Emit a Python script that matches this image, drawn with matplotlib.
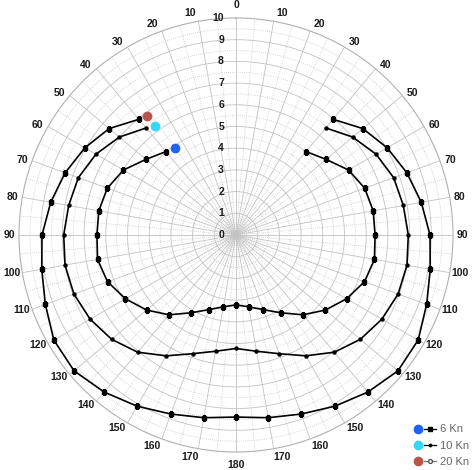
import numpy as np
import matplotlib
matplotlib.use("Agg")
import matplotlib.pyplot as plt
from matplotlib.lines import Line2D
from matplotlib.legend_handler import HandlerTuple

plt.rcParams['font.family'] = ['Liberation Sans', 'DejaVu Sans']

# boat speed (kn) against true wind angle (deg), same on both tacks
angles = [40, 50, 60, 70, 80, 90, 100, 110, 120, 130, 140, 150, 160, 170, 180]
spd_6 = [5.02, 5.42, 5.99, 6.31, 6.42, 6.41, 6.48, 6.30, 5.88, 5.38, 4.80, 4.14, 3.66, 3.36, 3.22]
spd_10 = [6.44, 7.02, 7.45, 7.73, 7.83, 7.94, 8.00, 7.95, 7.76, 7.48, 7.05, 6.43, 5.82, 5.44, 5.23]
spd_20 = [6.96, 7.63, 8.04, 8.38, 8.67, 8.94, 9.09, 9.35, 9.69, 9.74, 9.45, 9.11, 8.78, 8.55, 8.39]
labels = ["6 Kn", "10 Kn", "20 Kn"]

# coloured points (port side)
dot_angles = [35.1, 36.5, 36.8]
dot_speeds = [4.88, 6.27, 6.85]
dot_colors = ['#1f63f2', '#35d8f6', '#b8544c']

angle_ticks = list(range(0, 181, 10))
r_ticks = list(range(0, 11))

fig = plt.figure(figsize=(4.72, 4.70), dpi=100)
ax = fig.add_axes([19 / 472, 18 / 470, 434 / 472, 434 / 470], projection='polar')
ax.set_theta_zero_location('N')
ax.set_theta_direction(-1)
ax.set_ylim(0, 10)
ax.set_xticks([])
ax.set_yticks([])
ax.grid(False)
ax.spines['polar'].set_color('#b0b0b0')
ax.spines['polar'].set_linewidth(0.8)

# grid: solid every 10 deg / 1 kn, dotted in between
full = np.linspace(0, 2 * np.pi, 361)
solid = dict(color='#c2c2c2', lw=0.6, zorder=1)
dotted = dict(color='#c8c8c8', lw=0.6, ls=(0, (1, 1.5)), zorder=1)
for a in range(0, 360, 5):
    t = np.radians(a)
    ax.plot([t, t], [0, 10], **(solid if a % 10 == 0 else dotted))
for r in np.arange(0.5, 10, 0.5):
    on_unit = abs(r - round(r)) < 1e-6
    ax.plot(full, np.full_like(full, r), **(solid if on_unit else dotted))

# angle labels, mirrored both sides
for a in angle_ticks:
    if a in (0, 180):
        ax.text(np.radians(a), 10.6, str(a), ha='center', va='center',
                fontsize=7.5, fontweight='bold', color='#1a1a1a')
        continue
    off = 1.8 * np.cos(np.radians(a))
    for sgn in (1, -1):
        ax.text(np.radians(sgn * (a + off)), 10.45, str(a), ha='center', va='center',
                fontsize=7.5, fontweight='bold', color='#1a1a1a')

# radial labels
for r in r_ticks:
    ax.annotate(str(r), xy=(0, r), xytext=(-12, 0), textcoords='offset pixels',
                ha='right', va='center', fontsize=7.5, fontweight='bold', color='#1a1a1a')

# curves: port side 40..180 then starboard 170..40
ang = np.array(angles, dtype=float)
theta = np.radians(np.r_[360 - ang, ang[::-1][1:]])
styles = [dict(marker='s', ms=2.4), dict(marker='o', ms=2.2), dict(marker='s', ms=2.8)]
for spd, st in zip([spd_6, spd_10, spd_20], styles):
    s = np.array(spd)
    rr = np.r_[s, s[::-1][1:]]
    ax.plot(theta, rr, color='black', lw=1.2, zorder=3, **st)

for a, s, c in zip(dot_angles, dot_speeds, dot_colors):
    ax.plot(np.radians(360 - a), s, 'o', color=c, ms=6, mec=c, zorder=4)

# legend
leg_markers = [dict(marker='s', ms=2.5, mfc='black', mec='black', color='black'),
               dict(marker='.', ms=3.5, mfc='black', mec='black', color='black'),
               dict(marker='o', ms=2.8, mfc='white', mec='#555', color='#777')]
handles = []
for c, m in zip(dot_colors, leg_markers):
    dot = Line2D([], [], ls='none', marker='o', ms=6, color=c)
    ln = Line2D([], [], lw=0.9, **m)
    handles.append((dot, ln))
ax.legend(handles, labels, handler_map={tuple: HandlerTuple(ndivide=None, pad=0.0)},
          loc='lower right', bbox_to_anchor=(1.0, 0.0), bbox_transform=fig.transFigure,
          frameon=False, fontsize=8, labelcolor='#666', handlelength=2.1,
          handletextpad=0.35, labelspacing=0.55, borderaxespad=0.1, borderpad=0.2)

fig.savefig('out.png', dpi=100, facecolor='white')
